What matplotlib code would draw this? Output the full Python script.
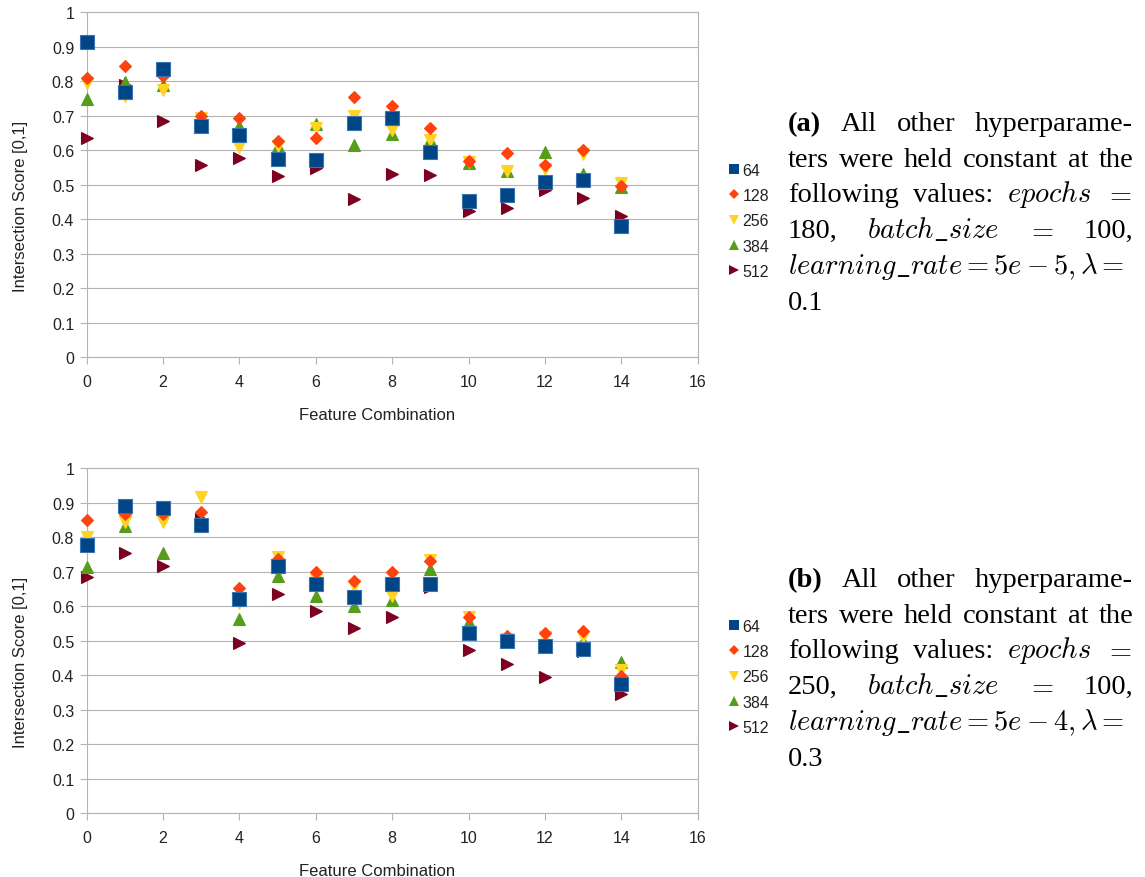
import matplotlib
matplotlib.use("Agg")
import matplotlib.pyplot as plt
from matplotlib.lines import Line2D
import numpy as np

plt.rcParams['font.family'] = ['Liberation Sans', 'DejaVu Sans']
plt.rcParams['mathtext.fontset'] = 'cm'

# data
combos = list(range(15))
series_names = ['64', '128', '256', '384', '512']

score_a = {
    '64':  [0.915, 0.77, 0.835, 0.67, 0.645, 0.575, 0.573, 0.678, 0.693, 0.596, 0.452, 0.469, 0.507, 0.514, 0.382],
    '128': [0.81, 0.845, 0.815, 0.70, 0.695, 0.626, 0.637, 0.755, 0.727, 0.665, 0.568, 0.591, 0.558, 0.602, 0.496],
    '256': [0.795, 0.757, 0.775, 0.695, 0.61, 0.612, 0.665, 0.70, 0.66, 0.63, 0.565, 0.541, 0.546, 0.59, 0.504],
    '384': [0.75, 0.797, 0.79, 0.675, 0.67, 0.612, 0.675, 0.615, 0.647, 0.63, 0.563, 0.541, 0.594, 0.531, 0.493],
    '512': [0.635, 0.79, 0.685, 0.558, 0.577, 0.525, 0.55, 0.458, 0.531, 0.527, 0.424, 0.433, 0.486, 0.461, 0.411],
}
score_b = {
    '64':  [0.779, 0.89, 0.884, 0.836, 0.621, 0.718, 0.665, 0.628, 0.665, 0.665, 0.522, 0.498, 0.484, 0.476, 0.375],
    '128': [0.851, 0.868, 0.868, 0.872, 0.652, 0.737, 0.699, 0.672, 0.70, 0.732, 0.57, 0.515, 0.523, 0.528, 0.399],
    '256': [0.80, 0.843, 0.843, 0.916, 0.61, 0.742, 0.68, 0.66, 0.631, 0.734, 0.568, 0.505, 0.51, 0.512, 0.415],
    '384': [0.715, 0.834, 0.754, 0.84, 0.563, 0.689, 0.631, 0.602, 0.619, 0.708, 0.554, 0.50, 0.50, 0.50, 0.44],
    '512': [0.684, 0.754, 0.718, 0.853, 0.494, 0.636, 0.587, 0.537, 0.57, 0.655, 0.473, 0.433, 0.396, 0.47, 0.346],
}
y_ticks = [0, 0.1, 0.2, 0.3, 0.4, 0.5, 0.6, 0.7, 0.8, 0.9, 1]
x_ticks = [0, 2, 4, 6, 8, 10, 12, 14, 16]

colors = {'64': '#004586', '128': '#ff420e', '256': '#ffd320', '384': '#579d1c', '512': '#7e0021'}
markers = {'64': 's', '128': 'D', '256': 'v', '384': '^', '512': '>'}
msize = {'64': 9.5, '128': 6.6, '256': 9.2, '384': 9.2, '512': 9.2}

W, H = 1145, 878
fig = plt.figure(figsize=(W / 100, H / 100), dpi=100)
GRID = '#b3b3b3'
TXT = '#222222'


def px(x, y):
    return x / W, 1 - y / H


def draw_panel(top, scores):
    ax = fig.add_axes([86.7 / W, 1 - (top + 345) / H, 611 / W, 345 / H])
    # 512 first so 64 ends up on top, like the original
    for name in series_names[::-1]:
        ec = '#3b73b0' if name == '64' else colors[name]
        ax.plot(combos, scores[name], ls='none', marker=markers[name], ms=msize[name],
                color=colors[name], mec=ec, mew=0.8, clip_on=False, zorder=3)
    ax.set_xlim(0, 16)
    ax.set_ylim(0, 1)
    ax.set_xticks(x_ticks)
    ax.set_yticks(y_ticks)
    ax.set_yticklabels(['{:g}'.format(v) for v in y_ticks])
    ax.grid(axis='y', color=GRID, lw=0.8)
    ax.set_axisbelow(True)
    for s in ax.spines.values():
        s.set_color(GRID)
        s.set_linewidth(0.8)
    ax.tick_params(axis='both', length=5, width=0.8, color=GRID, labelsize=11.5, labelcolor=TXT)
    ax.tick_params(axis='x', pad=7)
    ax.tick_params(axis='y', pad=4)
    fig.text(*px(377.5, top + 407), 'Feature Combination', ha='center', va='baseline',
             fontsize=12, color=TXT)
    fig.text(*px(21, top + 193), 'Intersection Score [0,1]', ha='center', va='center',
             rotation=90, fontsize=12, color=TXT)

    handles = [Line2D([], [], ls='none', marker=markers[n], color=colors[n],
                      ms=msize[n] * 0.8, mew=0) for n in series_names]
    fig.legend(handles, series_names, loc='center left', frameon=False,
               bbox_to_anchor=px(720, top + 208.5), fontsize=11.5,
               handlelength=0.7, handletextpad=0.2, labelspacing=0.65,
               borderpad=0, labelcolor=TXT)
    return ax


draw_panel(13.3, score_a)
draw_panel(469.3, score_b)

renderer = fig.canvas.get_renderer()
SERIF = 'Liberation Serif'
CAP_SIZE = 20.5


def justify_line(tokens, y, x0=788, x1=1133, justify=True):
    texts = []
    for tok, bold in tokens:
        t = fig.text(0, 1 - y / H, tok, fontsize=CAP_SIZE, family=SERIF,
                     fontweight='bold' if bold else 'normal', va='baseline', ha='left',
                     color='black')
        texts.append(t)
    widths = [t.get_window_extent(renderer).width for t in texts]
    gap = (x1 - x0 - sum(widths)) / (len(texts) - 1) if justify and len(texts) > 1 else 6
    x = x0
    for t, w in zip(texts, widths):
        t.set_x(x / W)
        x += w + gap


def caption(letter, epochs, lr, lam, y0):
    lines = [
        [('(' + letter + ')', True), ('All', False), ('other', False), ('hyperparame-', False)],
        [('ters', False), ('were', False), ('held', False), ('constant', False), ('at', False), ('the', False)],
        [('following', False), ('values:', False), ('$epochs$', False), ('$=$', False)],
        [(epochs + ',', False), (r'$batch\_size$', False), ('$=$', False), ('100,', False)],
    ]
    for i, ln in enumerate(lines):
        justify_line(ln, y0 + i * 35.9)
    justify_line([(r'$learning\_rate = ' + lr + r', \lambda =$', False)], y0 + 4 * 35.9,
                 justify=False)
    justify_line([(lam, False)], y0 + 5 * 35.9, justify=False)


caption('a', '180', '5e-5', '0.1', 130.7)
caption('b', '250', '5e-4', '0.3', 586.7)

fig.savefig('out.png', dpi=100)
